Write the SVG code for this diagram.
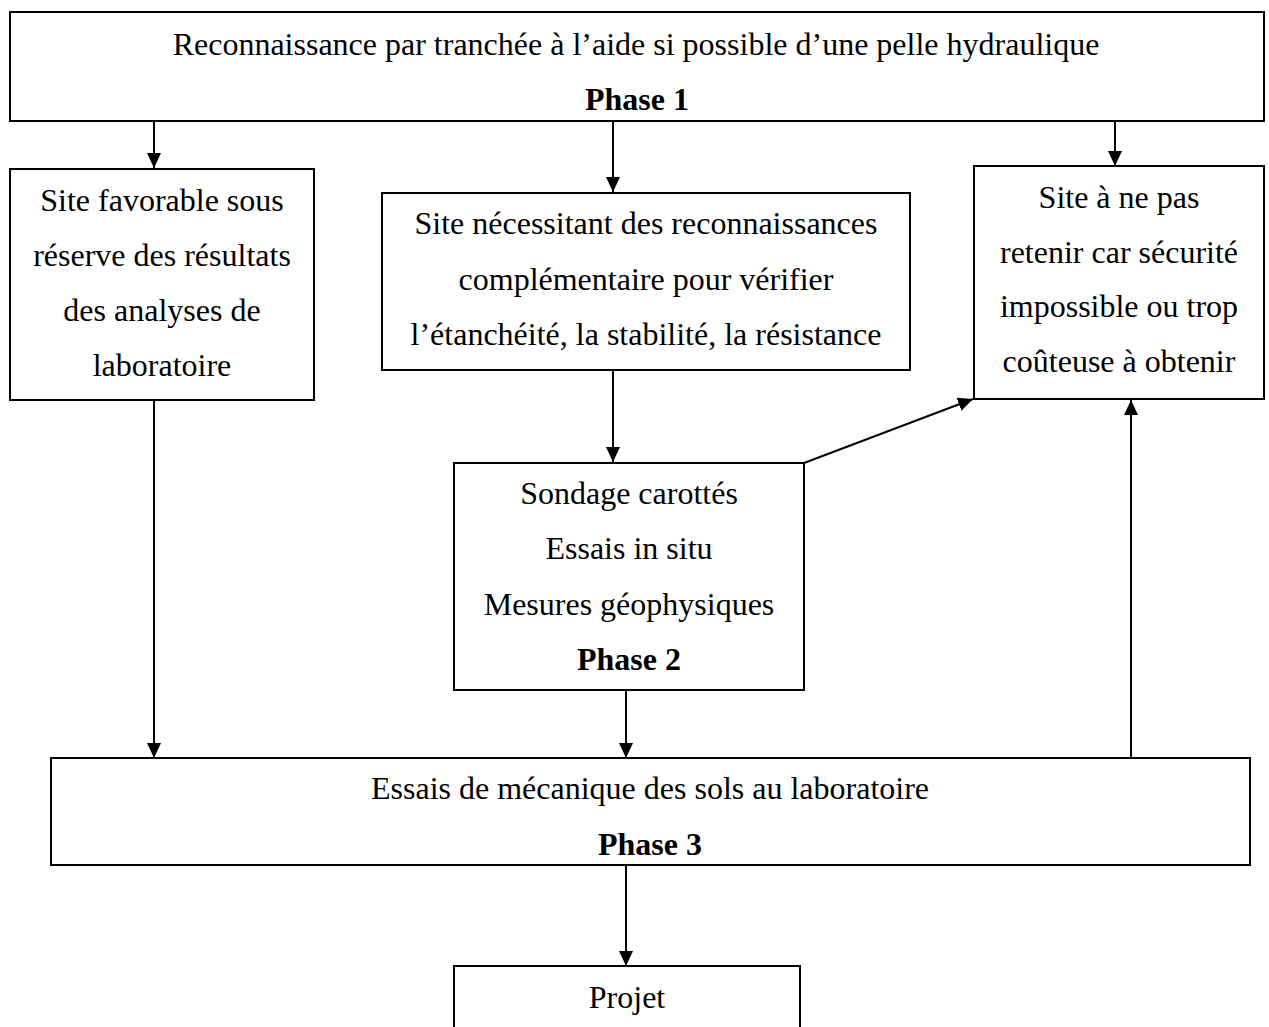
<svg xmlns="http://www.w3.org/2000/svg" width="1269" height="1027" viewBox="0 0 1269 1027">
<style>
.box{fill:#fff;stroke:#000;stroke-width:2}
text{font-family:"Liberation Serif","Times New Roman",serif;font-size:32px;fill:#000;text-anchor:middle}
.b{font-weight:bold}
.c{fill:none;stroke:#000;stroke-width:2}
</style>
<defs>
<marker id="ah" markerUnits="userSpaceOnUse" markerWidth="16" markerHeight="16" viewBox="0 0 16 16" refX="15" refY="8" orient="auto">
<path d="M0,1 L15,8 L0,15 Z" fill="#000"/>
</marker>
</defs>
<g id="connectors">
<line class="c" x1="154" y1="121" x2="154" y2="168" marker-end="url(#ah)"/>
<line class="c" x1="613" y1="121" x2="613" y2="192" marker-end="url(#ah)"/>
<line class="c" x1="1115" y1="121" x2="1115" y2="166" marker-end="url(#ah)"/>
<line class="c" x1="613" y1="370" x2="613" y2="462" marker-end="url(#ah)"/>
<line class="c" x1="804" y1="463" x2="973" y2="399" marker-end="url(#ah)"/>
<line class="c" x1="1131" y1="758" x2="1131" y2="400" marker-end="url(#ah)"/>
<line class="c" x1="154" y1="400" x2="154" y2="758" marker-end="url(#ah)"/>
<line class="c" x1="626" y1="690" x2="626" y2="758" marker-end="url(#ah)"/>
<line class="c" x1="626" y1="865" x2="626" y2="966" marker-end="url(#ah)"/>
</g>
<g id="phase1">
<rect class="box" x="10" y="12" width="1254" height="109"/>
<text x="636" y="55">Reconnaissance par tranchée à l’aide si possible d’une pelle hydraulique</text>
<text class="b" x="637" y="110">Phase 1</text>
</g>
<g id="favorable">
<rect class="box" x="10" y="169" width="304" height="231"/>
<text x="162" y="211">Site favorable sous</text>
<text x="162" y="266">réserve des résultats</text>
<text x="162" y="321">des analyses de</text>
<text x="162" y="376">laboratoire</text>
</g>
<g id="complementaire">
<rect class="box" x="382" y="193" width="528" height="177"/>
<text x="646" y="234">Site nécessitant des reconnaissances</text>
<text x="646" y="290">complémentaire pour vérifier</text>
<text x="646" y="345">l’étanchéité, la stabilité, la résistance</text>
</g>
<g id="rejet">
<rect class="box" x="974" y="166" width="290" height="233"/>
<text x="1119" y="208">Site à ne pas</text>
<text x="1119" y="263">retenir car sécurité</text>
<text x="1119" y="317">impossible ou trop</text>
<text x="1119" y="372">coûteuse à obtenir</text>
</g>
<g id="phase2">
<rect class="box" x="454" y="463" width="350" height="227"/>
<text x="629" y="504">Sondage carottés</text>
<text x="629" y="559">Essais in situ</text>
<text x="629" y="615">Mesures géophysiques</text>
<text class="b" x="629" y="670">Phase 2</text>
</g>
<g id="phase3">
<rect class="box" x="51" y="758" width="1199" height="107"/>
<text x="650" y="799">Essais de mécanique des sols au laboratoire</text>
<text class="b" x="650" y="855">Phase 3</text>
</g>
<g id="projet">
<rect class="box" x="454" y="966" width="346" height="80"/>
<text x="627" y="1008">Projet</text>
</g>
</svg>
